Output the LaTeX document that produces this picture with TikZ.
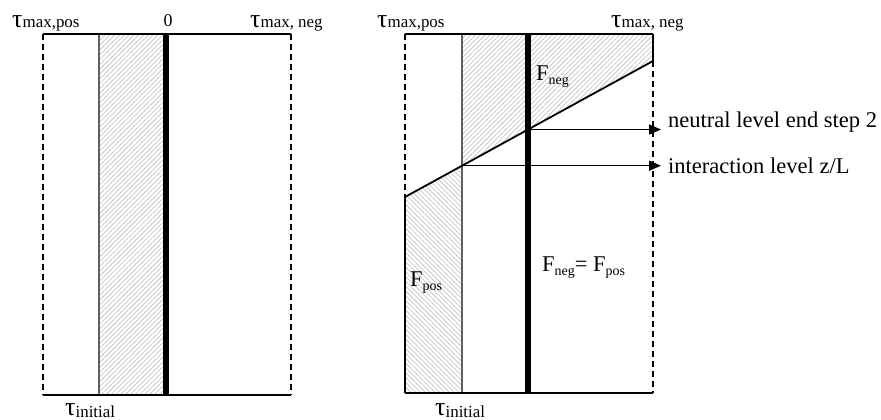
\documentclass[tikz,border=0pt]{standalone}
\usepackage{fontspec}
\setmainfont{Liberation Serif}
\usetikzlibrary{patterns.meta,arrows.meta}
\newcommand\taulab[2]{{\fontsize{26}{26}\selectfont τ}{\fontsize{17}{17}\selectfont\raisebox{#2}{#1}}}
\newcommand\flab[1]{{\fontsize{22.6}{24}\selectfont F}{\fontsize{14}{14}\selectfont\raisebox{-4.5bp}{#1}}}
\newcommand\bigtext{\fontsize{22.6}{24}\selectfont}
\tikzset{
  hatchne/.style={pattern={Lines[angle=45,distance=3.4bp,line width=0.75bp]},pattern color=gray!45},
  hatchnw/.style={pattern={Lines[angle=-45,distance=3.4bp,line width=0.75bp]},pattern color=gray!45},
  boxline/.style={line width=2.2bp,black},
  dashline/.style={line width=1.5bp,dash pattern=on 6bp off 4bp,black},
  solidside/.style={line width=2bp,black},
  grayline/.style={line width=1.4bp,gray!75!black},
  zeroline/.style={line width=6bp,black},
  slope/.style={line width=1.8bp,black},
  levelarrow/.style={line width=1.4bp,-{Triangle[length=12bp,width=10bp]}},
  lab/.style={inner sep=0pt,anchor=base west}
}
\begin{document}
\begin{tikzpicture}[x=1bp,y=-1bp]
\useasboundingbox (0,0) rectangle (881,419);
% ---------- left diagram ----------
\coordinate (LTL) at (43,34);
\coordinate (LTR) at (291,34);
\coordinate (LBL) at (43,395);
\coordinate (LBR) at (291,395);
\coordinate (LGT) at (99,34);
\coordinate (LGB) at (99,395);
\coordinate (LZT) at (166,34);
\coordinate (LZB) at (166,395);
\fill[hatchne] (99,34) rectangle (163,395);
\draw[grayline] (LGT) -- (LGB);
\draw[dashline] (LTL) -- (LBL);
\draw[dashline] (LTR) -- (LBR);
\draw[boxline] (LTL) -- (LTR);
\draw[boxline] (LBL) -- (LBR);
\draw[zeroline] (LZT) -- (LZB);
\node[lab] (lmaxpos) at (12,27) {\taulab{max,pos}{0bp}};
\node[inner sep=0pt,anchor=base] (lzero) at (168,26) {\fontsize{18}{18}\selectfont 0};
\node[lab] (lmaxneg) at (250,27) {\taulab{max, neg}{0bp}};
\node[lab] (linit) at (65,415) {\taulab{initial}{-2bp}};
% ---------- right diagram ----------
\coordinate (RTL) at (405,34);
\coordinate (RTR) at (653,34);
\coordinate (RBL) at (405,393);
\coordinate (RBR) at (653,393);
\coordinate (RSL) at (405,197);
\coordinate (RSR) at (653,61);
\coordinate (RGT) at (462,34);
\coordinate (RGB) at (462,393);
\coordinate (RZT) at (528,34);
\coordinate (RZB) at (528,393);
\coordinate (RG) at (462,165.7);
\coordinate (RZ) at (528,129.5);
\coordinate (A1) at (661,129.5);
\coordinate (A2) at (661,165.7);
\fill[hatchne] (RGT) -- (RTR) -- (RSR) -- (RG) -- cycle;
\fill[hatchnw] (RSL) -- (RG) -- (RGB) -- (RBL) -- cycle;
\draw[grayline] (RGT) -- (RGB);
\draw[dashline] (RTL) -- (RSL);
\draw[solidside] (RSL) -- (RBL);
\draw[solidside] (RTR) -- (RSR);
\draw[dashline] (RSR) -- (RBR);
\draw[boxline] (RTL) -- (RTR);
\draw[boxline] (RBL) -- (RBR);
\draw[slope] (RSL) -- (RSR);
\draw[zeroline] (RZT) -- (RZB);
\draw[levelarrow] (RZ) -- (A1);
\draw[levelarrow] (RG) -- (A2);
\node[lab] (neutral) at (668,127) {\bigtext neutral level end step 2};
\node[lab] (interact) at (668,173) {\bigtext interaction level z/L};
\node[lab] (rmaxpos) at (377,27) {\taulab{max,pos}{0bp}};
\node[lab] (rmaxneg) at (611,27) {\taulab{max, neg}{0bp}};
\node[lab] (rinit) at (435,415) {\taulab{initial}{-2bp}};
\node[lab] (fneg) at (536,80) {\flab{neg}};
\node[lab] (fpos) at (410,286) {\flab{pos}};
\node[lab] (feq) at (542,271) {\flab{neg}{\bigtext = }\flab{pos}};
\end{tikzpicture}
\end{document}
